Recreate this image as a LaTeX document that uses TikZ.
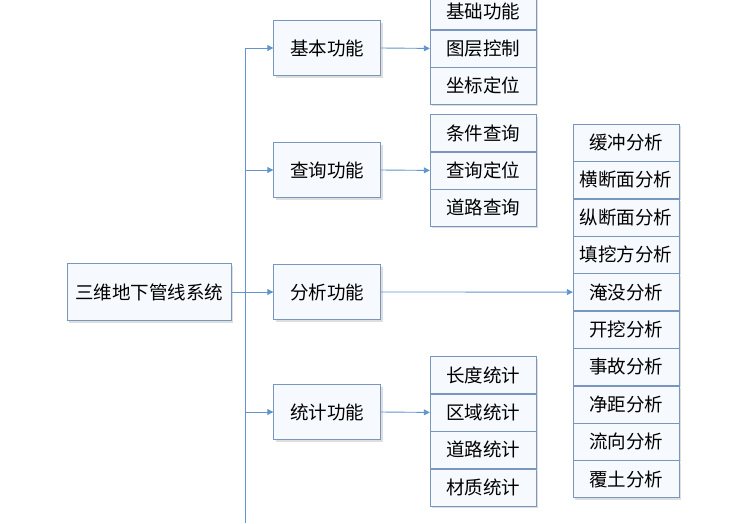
\documentclass[tikz,border=0pt]{standalone}
\usepackage{fontspec}
\setmainfont{Noto Sans CJK SC}
\usetikzlibrary{positioning, arrows.meta, shadows}
\definecolor{boxline}{RGB}{120,150,190}
\definecolor{boxfill}{RGB}{246,249,253}
\definecolor{linkblue}{RGB}{95,150,205}
\tikzset{
  box/.style={draw=boxline, fill=boxfill, inner sep=0pt, font=\fontsize{18.5}{21}\selectfont,
    drop shadow={shadow xshift=2pt, shadow yshift=-2pt, fill=black!25}},
  mainbox/.style={box, minimum width=107pt, minimum height=55pt},
  rootbox/.style={box, minimum width=164pt, minimum height=57pt},
  subbox/.style={box, minimum width=106pt, minimum height=37pt},
  link/.style={draw=linkblue, line width=0.9pt, -{Triangle[length=6pt,width=6pt]}}
}
\begin{document}
\begin{tikzpicture}[x=1pt, y=-1pt]
        \useasboundingbox[fill=white] (0,0) rectangle (732,523);
        \node[rootbox](root) at (149,292){三维地下管线系统};
        \node[mainbox](basic) at (327,48){基本功能};
        \node[mainbox](query) at (327,170){查询功能};
        \node[mainbox](anal) at (327,292){分析功能};
        \node[mainbox](stat) at (327,412){统计功能};

        \node[subbox](b1) at (483,11){基础功能};
        \node[subbox, below=0pt of b1](b2){图层控制};
        \node[subbox, below=0pt of b2](b3){坐标定位};

        \node[subbox](q1) at (483,133){条件查询};
        \node[subbox, below=0pt of q1](q2){查询定位};
        \node[subbox, below=0pt of q2](q3){道路查询};

        \node[subbox](s1) at (483,375){长度统计};
        \node[subbox, below=0pt of s1](s2){区域统计};
        \node[subbox, below=0pt of s2](s3){道路统计};
        \node[subbox, below=0pt of s3](s4){材质统计};

        \node[subbox](a1) at (626,142.5){缓冲分析};
        \node[subbox, below=0pt of a1](a2){横断面分析};
        \node[subbox, below=0pt of a2](a3){纵断面分析};
        \node[subbox, below=0pt of a3](a4){填挖方分析};
        \node[subbox, below=0pt of a4](a5){淹没分析};
        \node[subbox, below=0pt of a5](a6){开挖分析};
        \node[subbox, below=0pt of a6](a7){事故分析};
        \node[subbox, below=0pt of a7](a8){净距分析};
        \node[subbox, below=0pt of a8](a9){流向分析};
        \node[subbox, below=0pt of a9](a10){覆土分析};

        \coordinate (trunktop) at (245,48);
        \coordinate (trunkbot) at (245,523);
        \draw[linkblue, line width=0.9pt] (trunktop) -- (trunkbot);
        \path[link] (root.east) -- (anal.west);
        \path[link] (trunktop) -- (basic.west);
        \path[link] (basic.east) -- (b2.west);
        \path[link] (query.west -| trunktop) -- (query.west);
        \path[link] (query.east) -- (q2.west);
        \path[link] (stat.west -| trunktop) -- (stat.west);
        \path[link] (stat.east) -- (s2.west);
        \path[link] (anal.east) -- (a5.west);
\end{tikzpicture}
\end{document}
